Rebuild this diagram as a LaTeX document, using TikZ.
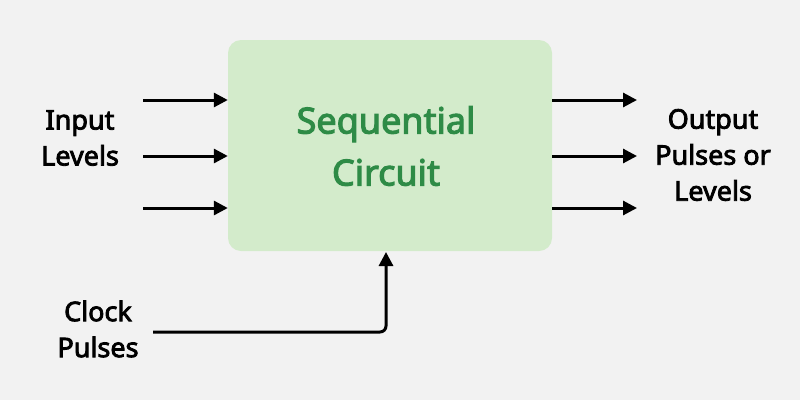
\documentclass[tikz,border=0pt]{standalone}
\usepackage{fontspec}
\setmainfont{Noto Sans}[BoldFont={Noto Sans}, BoldFeatures={FakeBold=3}]
\usetikzlibrary{arrows.meta}
\definecolor{bg}{HTML}{F2F2F2}
\definecolor{boxfill}{HTML}{D3EBCB}
\definecolor{titlegreen}{HTML}{2E8B46}
\tikzset{
  lbl/.style={font=\fontsize{27}{36}\selectfont\bfseries, text=black, align=center, inner sep=0pt},
  ttl/.style={font=\fontsize{36}{52}\selectfont\bfseries, text=titlegreen, align=center, inner sep=0pt},
  arr/.style={line width=3pt, -{Triangle[length=14pt,width=14pt]}, line join=round},
  coord/.style={inner sep=0pt, minimum size=0pt}
}
\begin{document}
\begin{tikzpicture}[x=1pt,y=-1pt]
\fill[bg] (0,0) rectangle (800,400);
\useasboundingbox (0,0) rectangle (800,400);
\node[fill=boxfill, rounded corners=13pt, minimum width=324pt, minimum height=211pt, inner sep=0pt] (box) at (390,145.5) {};
\node[ttl] (title) at (386,146) {Sequential\\Circuit};

% inputs
\coordinate (i1) at (143,100);
\coordinate (i2) at (143,156);
\coordinate (i3) at (143,208);
\draw[arr] (i1) -- (i1 -| box.west);
\draw[arr] (i2) -- (i2 -| box.west);
\draw[arr] (i3) -- (i3 -| box.west);
\node[lbl] (inlbl) at (80,138) {Input\\Levels};

% outputs
\coordinate (o1) at (637,100);
\coordinate (o2) at (637,156);
\coordinate (o3) at (637,208);
\draw[arr] (o1 -| box.east) -- (o1);
\draw[arr] (o2 -| box.east) -- (o2);
\draw[arr] (o3 -| box.east) -- (o3);
\node[lbl] (outlbl) at (713,155) {Output\\Pulses or\\Levels};

% clock
\node[lbl] (clklbl) at (98,329) {Clock\\Pulses};
\coordinate (c0) at (153,332);
\coordinate (c1) at (386,332);
\coordinate (c2) at (386,252);
\draw[arr, rounded corners=6pt] (c0) -- (c1) -- (c2);
\end{tikzpicture}
\end{document}
